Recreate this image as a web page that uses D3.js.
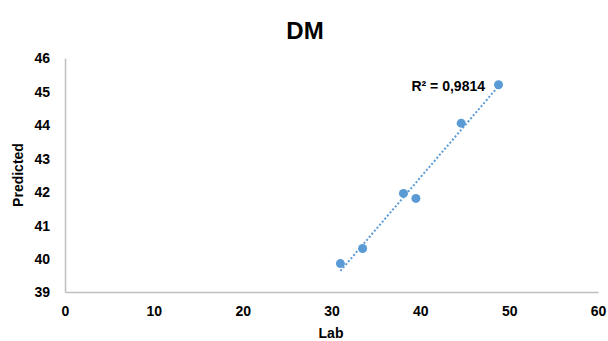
<!DOCTYPE html>
<html>
<head>
<meta charset="utf-8">
<script src="https://cdn.jsdelivr.net/npm/d3@7"></script>
<style>
	body { margin: 0; background: #fff; }
	text { font-family: "Liberation Sans", Arial, sans-serif; font-weight: bold; }
</style>
</head>
<body>
<svg id="chart" width="608" height="341"></svg>
<script>

// values
var aLab = [31.0, 33.5, 38.1, 39.5, 44.6, 48.8];
var aPredicted = [39.85, 40.3, 41.95, 41.8, 44.05, 45.2];
var aTicksX = [0, 10, 20, 30, 40, 50, 60];
var aTicksY = [39, 40, 41, 42, 43, 44, 45, 46];
var strR2 = 'R² = 0,9814';

var sSvg = d3.select('#chart');

var nLeft = 65;
var nRight = 598;
var nTop = 58;
var nBottom = 292;

var scaleX = d3.scaleLinear().domain([0, 60]).range([nLeft, nRight]);
var scaleY = d3.scaleLinear().domain([39, 46]).range([nBottom, nTop]);

// title
sSvg.append('text')
	.attr('x', 305)
	.attr('y', 39)
	.attr('text-anchor', 'middle')
	.style('font-size', '24px')
	.text('DM');

// axes
var axisX = d3.axisBottom(scaleX).tickValues(aTicksX).tickFormat(d3.format('d')).tickSize(0).tickPadding(14);
var axisY = d3.axisLeft(scaleY).tickValues(aTicksY).tickFormat(d3.format('d')).tickSize(0).tickPadding(15);

var sAxisX = sSvg.append('g')
	.attr('transform', 'translate(0,' + nBottom + ')')
	.call(axisX);
var sAxisY = sSvg.append('g')
	.attr('transform', 'translate(' + nLeft + ',0)')
	.call(axisY);

[sAxisX, sAxisY].forEach(function(sAxis)
{
	sAxis.select('.domain').attr('stroke', '#bfbfbf').attr('stroke-width', 1.5);
	sAxis.selectAll('.tick text')
		.attr('fill', '#000')
		.style('font-size', '14px')
		.style('font-family', '"Liberation Sans", Arial, sans-serif')
		.style('font-weight', 'bold');
});
sAxisY.selectAll('.tick text').attr('dy', '0.35em');

// axis titles
sSvg.append('text')
	.attr('x', 331)
	.attr('y', 338)
	.attr('text-anchor', 'middle')
	.style('font-size', '14px')
	.text('Lab');

sSvg.append('text')
	.attr('transform', 'translate(23,175) rotate(-90)')
	.attr('text-anchor', 'middle')
	.style('font-size', '14px')
	.text('Predicted');

// linear trendline through the points
var fMeanX = d3.mean(aLab);
var fMeanY = d3.mean(aPredicted);
var fSxy = d3.sum(aLab, function(x, i) { return (x - fMeanX) * (aPredicted[i] - fMeanY); });
var fSxx = d3.sum(aLab, function(x) { return (x - fMeanX) * (x - fMeanX); });
var fSlope = fSxy / fSxx;
var fIntercept = fMeanY - fSlope * fMeanX;
var aExtent = d3.extent(aLab);

sSvg.append('line')
	.attr('x1', scaleX(aExtent[0]))
	.attr('y1', scaleY(fIntercept + fSlope * aExtent[0]))
	.attr('x2', scaleX(aExtent[1]))
	.attr('y2', scaleY(fIntercept + fSlope * aExtent[1]))
	.attr('stroke', '#5b9bd5')
	.attr('stroke-width', 2)
	.attr('stroke-dasharray', '2,2');

// points
sSvg.selectAll('.dot')
	.data(aLab)
	.enter()
		.append('circle')
			.attr('class', 'dot')
			.attr('cx', function(x) { return scaleX(x); })
			.attr('cy', function(x, i) { return scaleY(aPredicted[i]); })
			.attr('r', 4.5)
			.attr('fill', '#5b9bd5');

// R² label
sSvg.append('text')
	.attr('x', 485)
	.attr('y', 91)
	.attr('text-anchor', 'end')
	.style('font-size', '14px')
	.text(strR2);

</script>
</body>
</html>
